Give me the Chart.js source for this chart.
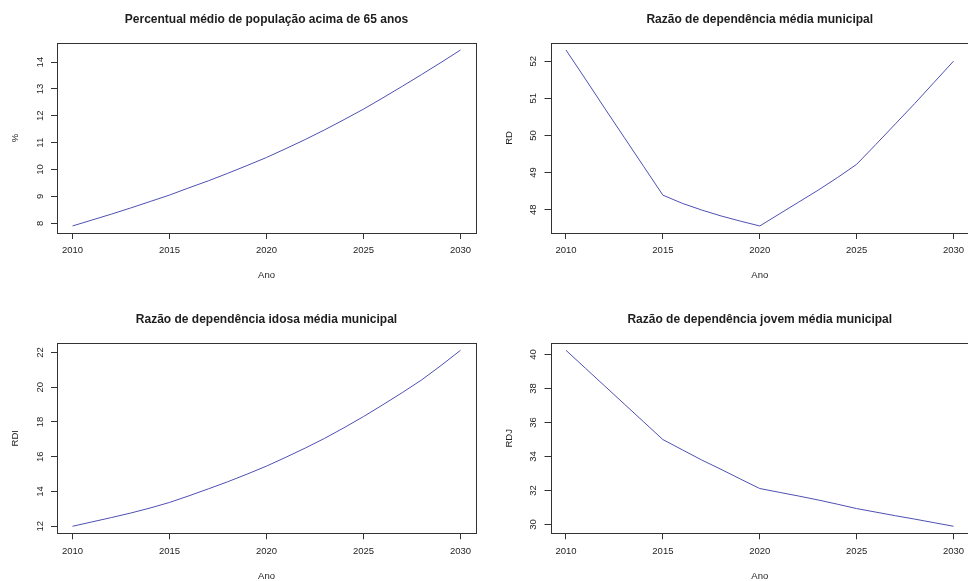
<!DOCTYPE html>
<html>
<head>
<meta charset="utf-8">
<script src="https://cdn.jsdelivr.net/npm/chart.js@4.4.1/dist/chart.umd.min.js"></script>
<style>
    html, body { margin: 0; padding: 0; background: #ffffff; }
    body { width: 968px; height: 581px; overflow: hidden; position: relative; }
    canvas { position: absolute; }
</style>
</head>
<body>
<canvas id="pct65" width="500" height="300" style="left:0px;top:0px;width:500px;height:300px"></canvas>
<canvas id="rd" width="500" height="300" style="left:484px;top:0px;width:500px;height:300px"></canvas>
<canvas id="rdi" width="500" height="300" style="left:0px;top:290px;width:500px;height:300px"></canvas>
<canvas id="rdj" width="500" height="300" style="left:484px;top:290px;width:500px;height:300px"></canvas>
<script>
// Data (yearly values)
const years = [2010, 2011, 2012, 2013, 2014, 2015, 2016, 2017, 2018, 2019, 2020,
               2021, 2022, 2023, 2024, 2025, 2026, 2027, 2028, 2029, 2030];

const pct65 = [7.90, 8.12, 8.34, 8.57, 8.81, 9.05, 9.32, 9.58, 9.86, 10.15, 10.45,
               10.78, 11.12, 11.48, 11.86, 12.25, 12.67, 13.10, 13.54, 13.99, 14.45];

const rd = [52.30, 51.52, 50.73, 49.95, 49.17, 48.39, 48.17, 47.99, 47.83, 47.69, 47.56,
            47.88, 48.20, 48.52, 48.86, 49.22, 49.76, 50.31, 50.86, 51.43, 52.00];

const rdi = [12.00, 12.25, 12.50, 12.76, 13.05, 13.37, 13.75, 14.15, 14.56, 15.00, 15.46,
             15.97, 16.50, 17.06, 17.67, 18.31, 18.99, 19.69, 20.42, 21.25, 22.12];

const rdj = [40.25, 39.20, 38.15, 37.10, 36.05, 35.00, 34.40, 33.80, 33.25, 32.68, 32.12,
             31.90, 31.68, 31.45, 31.20, 30.94, 30.73, 30.52, 30.32, 30.11, 29.90];

// Tick labels
const xTicks = [2010, 2015, 2020, 2025, 2030];
const pct65Ticks = [8, 9, 10, 11, 12, 13, 14];
const rdTicks = [48, 49, 50, 51, 52];
const rdiTicks = [12, 14, 16, 18, 20, 22];
const rdjTicks = [30, 32, 34, 36, 38, 40];

const FONT = "'Liberation Sans', Arial, sans-serif";
const TEXT = '#1e1e1e';
const LINE = '#4f4fb3';

// Box around the plot region, like R's default bty="o"
const boxPlugin = {
    id: 'plotBox',
    afterDraw: function (chart) {
        const a = chart.chartArea;
        const ctx = chart.ctx;
        ctx.save();
        ctx.strokeStyle = '#333333';
        ctx.lineWidth = 1;
        ctx.strokeRect(Math.round(a.left) + 0.5, Math.round(a.top) + 0.5,
                       Math.round(a.right - a.left), Math.round(a.bottom - a.top));
        ctx.restore();
    }
};

// R-style range: data range padded by 4% on each side
function paddedRange(values) {
    const lo = Math.min(...values);
    const hi = Math.max(...values);
    const pad = (hi - lo) * 0.04;
    return { min: lo - pad, max: hi + pad };
}

function renderPanel(canvasId, title, yTitle, values, yTicks, geom) {
    const canvas = document.getElementById(canvasId);
    if (!canvas) {
        console.warn(`Canvas element with id '${canvasId}' not found`);
        return;
    }
    const xr = paddedRange(years);
    const yr = paddedRange(values);

    new Chart(canvas.getContext('2d'), {
        type: 'line',
        data: {
            datasets: [{
                data: years.map((yr, i) => ({ x: yr, y: values[i] })),
                borderColor: LINE,
                borderWidth: 1,
                pointRadius: 0,
                tension: 0,
                fill: false
            }]
        },
        options: {
            responsive: false,
            animation: false,
            layout: { padding: { left: 0, right: geom.padRight, top: 0, bottom: 0 } },
            plugins: {
                legend: { display: false },
                tooltip: { enabled: false },
                title: {
                    display: true,
                    text: title,
                    fullSize: false,
                    color: TEXT,
                    font: { family: FONT, size: 12, weight: 'bold', lineHeight: 1.2 },
                    padding: { top: geom.titleTop, bottom: geom.titleBottom }
                }
            },
            scales: {
                x: {
                    type: 'linear',
                    min: xr.min,
                    max: xr.max,
                    afterBuildTicks: s => { s.ticks = xTicks.map(v => ({ value: v })); },
                    afterFit: s => { s.height = geom.xHeight; },
                    grid: { drawOnChartArea: false, drawTicks: true, tickLength: 6, color: '#333333' },
                    border: { display: false },
                    ticks: {
                        color: TEXT,
                        padding: 6,
                        maxRotation: 0,
                        autoSkip: false,
                        font: { family: FONT, size: 9.5 },
                        callback: v => String(v)
                    },
                    title: {
                        display: true,
                        text: 'Ano',
                        color: TEXT,
                        font: { family: FONT, size: 9.5, lineHeight: 1.2 },
                        padding: { top: 0, bottom: geom.anoBottom }
                    }
                },
                y: {
                    type: 'linear',
                    min: yr.min,
                    max: yr.max,
                    afterBuildTicks: s => { s.ticks = yTicks.map(v => ({ value: v })); },
                    afterFit: s => { s.width = geom.yWidth; },
                    grid: { drawOnChartArea: false, drawTicks: true, tickLength: 6, color: '#333333' },
                    border: { display: false },
                    ticks: {
                        color: TEXT,
                        padding: 5.7,
                        minRotation: 90,
                        maxRotation: 90,
                        crossAlign: 'center',
                        autoSkip: false,
                        font: { family: FONT, size: 9.5 },
                        callback: v => String(v)
                    },
                    title: {
                        display: true,
                        text: yTitle,
                        color: TEXT,
                        font: { family: FONT, size: 9.5, lineHeight: 1.2 },
                        padding: { top: geom.yTitlePad, bottom: 0 }
                    }
                }
            }
        },
        plugins: [boxPlugin]
    });
}

const topLeft = { titleTop: 12.8, titleBottom: 15.8, xHeight: 67, anoBottom: 19.3, yWidth: 57, yTitlePad: 9.3, padRight: 24 };
const topRight = { titleTop: 12.8, titleBottom: 15.8, xHeight: 67, anoBottom: 19.3, yWidth: 66.5, yTitlePad: 19.3, padRight: 15 };
const botLeft = { titleTop: 22.8, titleBottom: 16.1, xHeight: 56.7, anoBottom: 8.3, yWidth: 57, yTitlePad: 9.3, padRight: 24 };
const botRight = { titleTop: 22.8, titleBottom: 16.1, xHeight: 56.7, anoBottom: 8.3, yWidth: 66.5, yTitlePad: 19.3, padRight: 15 };

renderPanel('pct65', 'Percentual médio de população acima de 65 anos', '%', pct65, pct65Ticks, topLeft);
renderPanel('rd', 'Razão de dependência média municipal', 'RD', rd, rdTicks, topRight);
renderPanel('rdi', 'Razão de dependência idosa média municipal', 'RDI', rdi, rdiTicks, botLeft);
renderPanel('rdj', 'Razão de dependência jovem média municipal', 'RDJ', rdj, rdjTicks, botRight);
</script>
</body>
</html>
